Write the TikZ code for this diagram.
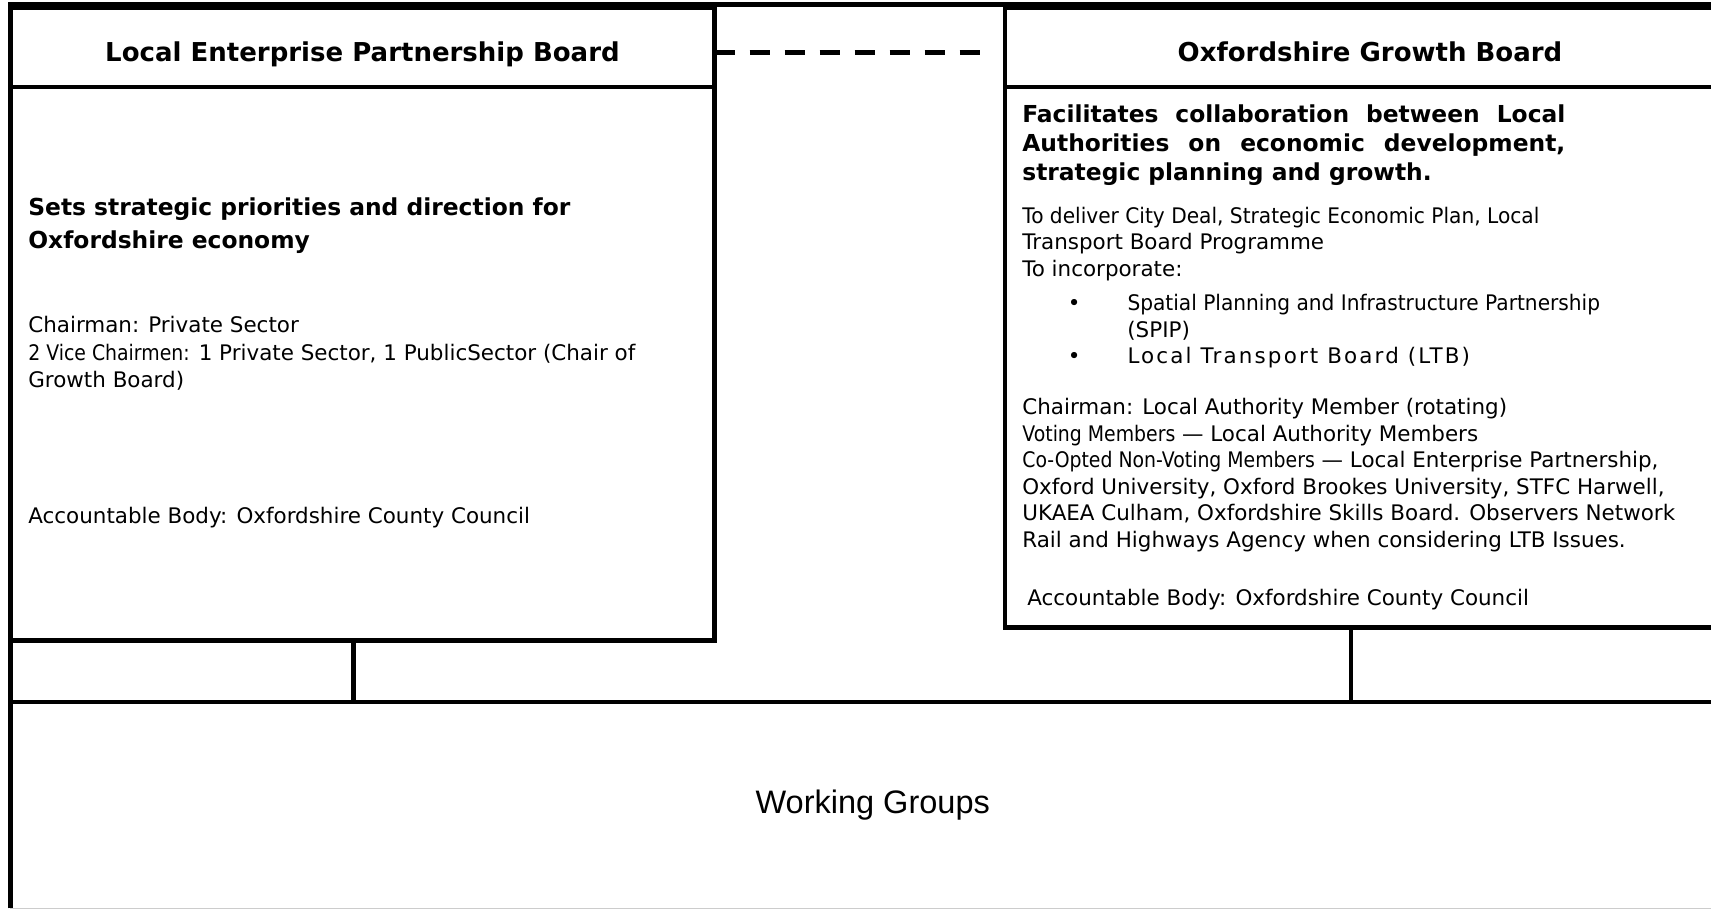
\documentclass[tikz,border=0pt]{standalone}
\usepackage{fontspec}
\setmainfont{DejaVu Sans}
\newfontfamily\narrowsans[FakeStretch=0.88]{DejaVu Sans}
\newfontfamily\midsans[FakeStretch=0.94]{DejaVu Sans}
\newfontfamily\groupfont{Liberation Sans}
\newcommand{\narrowpart}[1]{{\narrowsans #1}}
\newcommand{\midpart}[1]{{\midsans #1}}
\usetikzlibrary{positioning}
\tikzset{
  board/.style={rectangle, draw, line width=2.56pt, inner sep=0pt, outer sep=0pt},
  boardtitle/.style={board, text height=17pt, text depth=0.6pt, font=\bfseries\fontsize{14.8}{17}\selectfont},
  aim/.style={anchor=north west, inner sep=0pt, align=left, font=\bfseries\fontsize{13.3}{19.1}\selectfont},
  blurb/.style={anchor=north west, inner sep=0pt, align=left, font=\fontsize{12.2}{15.6}\selectfont},
  link/.style={line width=2.56pt},
}

\begin{document}
\begin{tikzpicture}
        \useasboundingbox (0,0) rectangle (34.22,18.18);
        % Frame
        \draw[line width=2.8pt] (0.21,0.02) -- (0.21,18.09) -- (34.4,18.09);
        % Nodes
        \node (lephead) [boardtitle, minimum width=14.08cm, minimum height=1.58cm] at (7.25,17.23) {Local Enterprise Partnership Board};
        \node (lepbody) [board, below=0pt of lephead, minimum width=14.08cm, minimum height=11.07cm] {};
        \node (ogbhead) [boardtitle, minimum width=14.6cm, minimum height=1.58cm] at (27.4,17.23) {Oxfordshire Growth Board};
        \node (ogbbody) [board, below=0pt of ogbhead, minimum width=14.6cm, minimum height=10.81cm] {};
        \node (wg) [minimum width=34.49cm, minimum height=4.11cm, inner sep=0pt, font=\groupfont\fontsize{18.5}{22}\selectfont] at (17.455,2.075) {Working Groups};
        % Left board text
        \node (lepaim) [aim] at (0.56,14.24) {Sets strategic priorities and direction for\\Oxfordshire economy};
        \node (lepchair) [blurb] at (0.56,11.86) {Chairman: Private Sector\\
          \narrowpart{2 Vice Chairmen:} 1 Private Sector, 1 PublicSector (Chair of\\
          Growth Board)};
        \node (lepacc) [blurb] at (0.56,8.04) {Accountable Body: Oxfordshire County Council};
        % Right board text
        \node (ogbaim) [aim, align=justify, text width=10.86cm, font=\bfseries\fontsize{13.3}{16.6}\selectfont] at (20.44,16.1) {Facilitates collaboration between Local\linebreak
          Authorities on economic development,\linebreak
          strategic planning and growth.};
        \node (ogbtext) [blurb, font=\fontsize{12.2}{15.1}\selectfont] at (20.44,14.05) {\midpart{To deliver City Deal, Strategic Economic Plan, Local}\\
          Transport Board Programme\\
          To incorporate:\\[4.5pt]
          \hspace*{0.91cm}\textbullet\hspace{0.94cm}\midpart{Spatial Planning and Infrastructure Partnership}\\
          \hspace*{2.1cm}(SPIP)\\
          \hspace*{0.91cm}\textbullet\hspace{0.94cm}{\addfontfeature{LetterSpace=10}Local Transport Board (LTB)}\\[13.9pt]
          Chairman: Local Authority Member (rotating)\\
          \narrowpart{Voting Members} — Local Authority Members\\
          \narrowpart{Co-Opted Non-Voting Members} — Local Enterprise Partnership,\\
          Oxford University, Oxford Brookes University, STFC Harwell,\\
          UKAEA Culham, Oxfordshire Skills Board. Observers Network\\
          Rail and Highways Agency when considering LTB Issues.};
        \node (ogbacc) [blurb] at (20.54,6.41) {Accountable Body: Oxfordshire County Council};
        % Joins
        \coordinate (lepjoin) at (7.07,0);
        \coordinate (ogbjoin) at (27.02,0);
        % Lines
        \draw[link, dash pattern=on 0.4cm off 0.3cm, line width=2.85pt] ([yshift=-0.1cm]lephead.east) -- ([xshift=-0.44cm, yshift=-0.1cm]ogbhead.west);
        \draw[link] (lepbody.south -| lepjoin) -- (wg.north -| lepjoin);
        \draw[link] (ogbbody.south -| ogbjoin) -- (wg.north -| ogbjoin);
        \draw[link] (wg.south west) -- (wg.north west) -- (wg.north east);
        \draw[gray!40, line width=0.6pt] (wg.south west) -- (wg.south east);
      \end{tikzpicture}
\end{document}
